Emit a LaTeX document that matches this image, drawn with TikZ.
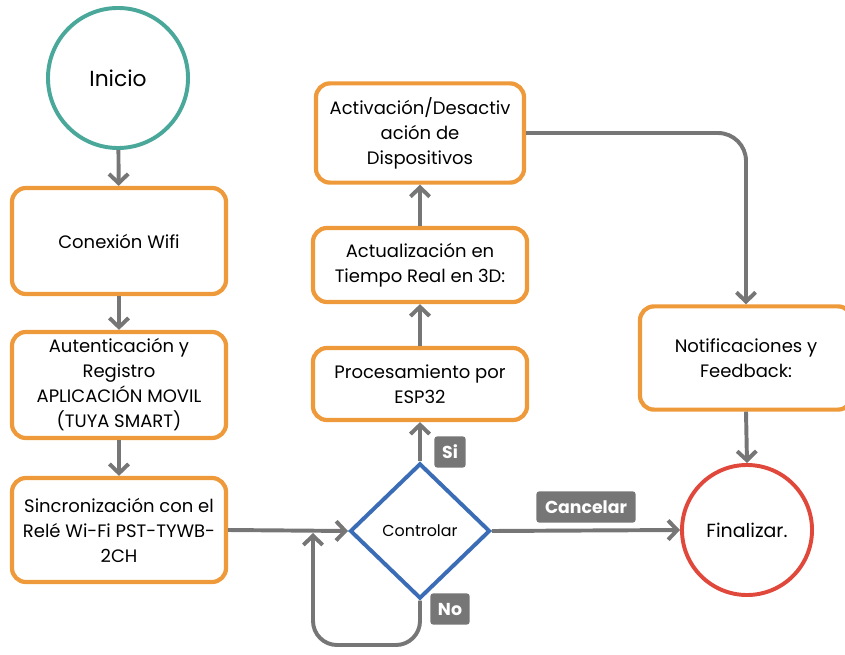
\documentclass[tikz,border=0pt]{standalone}
\usepackage{fontspec}
\setmainfont{Poppins}
\usetikzlibrary{arrows.meta,shapes.geometric,positioning}

\definecolor{naranja}{RGB}{238,154,58}
\definecolor{verdeazul}{RGB}{74,168,155}
\definecolor{rojo}{RGB}{224,72,60}
\definecolor{azul}{RGB}{58,109,181}
\definecolor{gris}{RGB}{118,118,118}

\tikzset{
	caja/.style={draw=naranja, line width=3pt, rounded corners=0.35cm, fill=white,
		minimum width=5.35cm, align=center, font=\fontsize{12.8}{17.8}\selectfont},
	inicio/.style={circle, draw=verdeazul, line width=2.8pt, minimum size=3.5cm,
		font=\fontsize{15.5}{18}\selectfont},
	fin/.style={circle, draw=rojo, line width=2.8pt, minimum size=3.25cm,
		font=\fontsize{13.5}{17}\selectfont},
	decision/.style={diamond, draw=azul, line width=2.8pt, minimum width=3.5cm,
		minimum height=3.38cm, inner sep=0pt, font=\fontsize{11.3}{13}\selectfont},
	etiqueta/.style={fill=gris, text=white, rounded corners=2pt, inner sep=0pt,
		minimum height=0.78cm, font=\bfseries\fontsize{12.3}{13}\selectfont},
	flecha/.style={draw=gris, line width=2.8pt,
		-{Straight Barb[length=2.3mm, width=4.8mm, line width=2.8pt]}}
}

\begin{document}
\begin{tikzpicture}[x=0.025cm, y=-0.025cm]
	\useasboundingbox (0,0) rectangle (845,655);

	% columna izquierda
	\node[inicio] (ini) at (118,78) {Inicio};
	\node[caja, minimum height=2.65cm] (wifi) at (119,241) {Conexión Wifi};
	\node[caja, minimum height=2.65cm] (aut) at (119,385)
		{Autenticación y\\Registro\\APLICACIÓN MOVIL\\(TUYA SMART)};
	\node[caja, minimum height=2.6cm] (sinc) at (119,530)
		{Sincronización con el\\Relé Wi-Fi PST-TYWB-\\2CH};

	% columna central
	\node[decision] (ctrl) at (420,531) {Controlar};
	\node[caja, minimum height=1.8cm] (proc) at (420,384) {Procesamiento por\\ESP32};
	\node[caja, minimum height=1.85cm] (act) at (420,265)
		{Actualización en\\Tiempo Real en 3D:};
	\node[caja, minimum width=5.2cm, minimum height=2.48cm] (disp) at (420,133)
		{Activación/Desactiv\\ación de\\Dispositivos};

	% columna derecha
	\node[caja, minimum width=5.3cm, minimum height=2.58cm] (notif) at (746,358)
		{Notificaciones y\\Feedback:};
	\node[fin] (fin) at (747,530) {Finalizar.};

	\coordinate (vuelta) at (313,533);

	% conexiones
	\draw[flecha] (ini) -- (wifi);
	\draw[flecha] (wifi) -- (aut);
	\draw[flecha] (aut) -- (sinc);
	\draw[flecha] (sinc.east) -- (ctrl.west);
	\draw[flecha, rounded corners=0.6cm] (ctrl.south) -- (420,645) -- (313,645) -- (vuelta);
	\draw[flecha] (ctrl.north) -- (proc.south);
	\draw[flecha] (proc) -- (act);
	\draw[flecha] (act) -- (disp);
	\draw[flecha, rounded corners=0.7cm] (disp.east) -| (notif.north);
	\draw[flecha] (notif.south) -- (fin.north);
	\draw[flecha] (ctrl.east) -- (fin.west);

	% etiquetas
	\node[etiqueta, minimum width=0.78cm] (si) at (450,452) {Si};
	\node[etiqueta, minimum width=0.98cm] (no) at (450,609) {No};
	\node[etiqueta, minimum width=2.48cm] (canc) at (586,507) {Cancelar};
\end{tikzpicture}
\end{document}
